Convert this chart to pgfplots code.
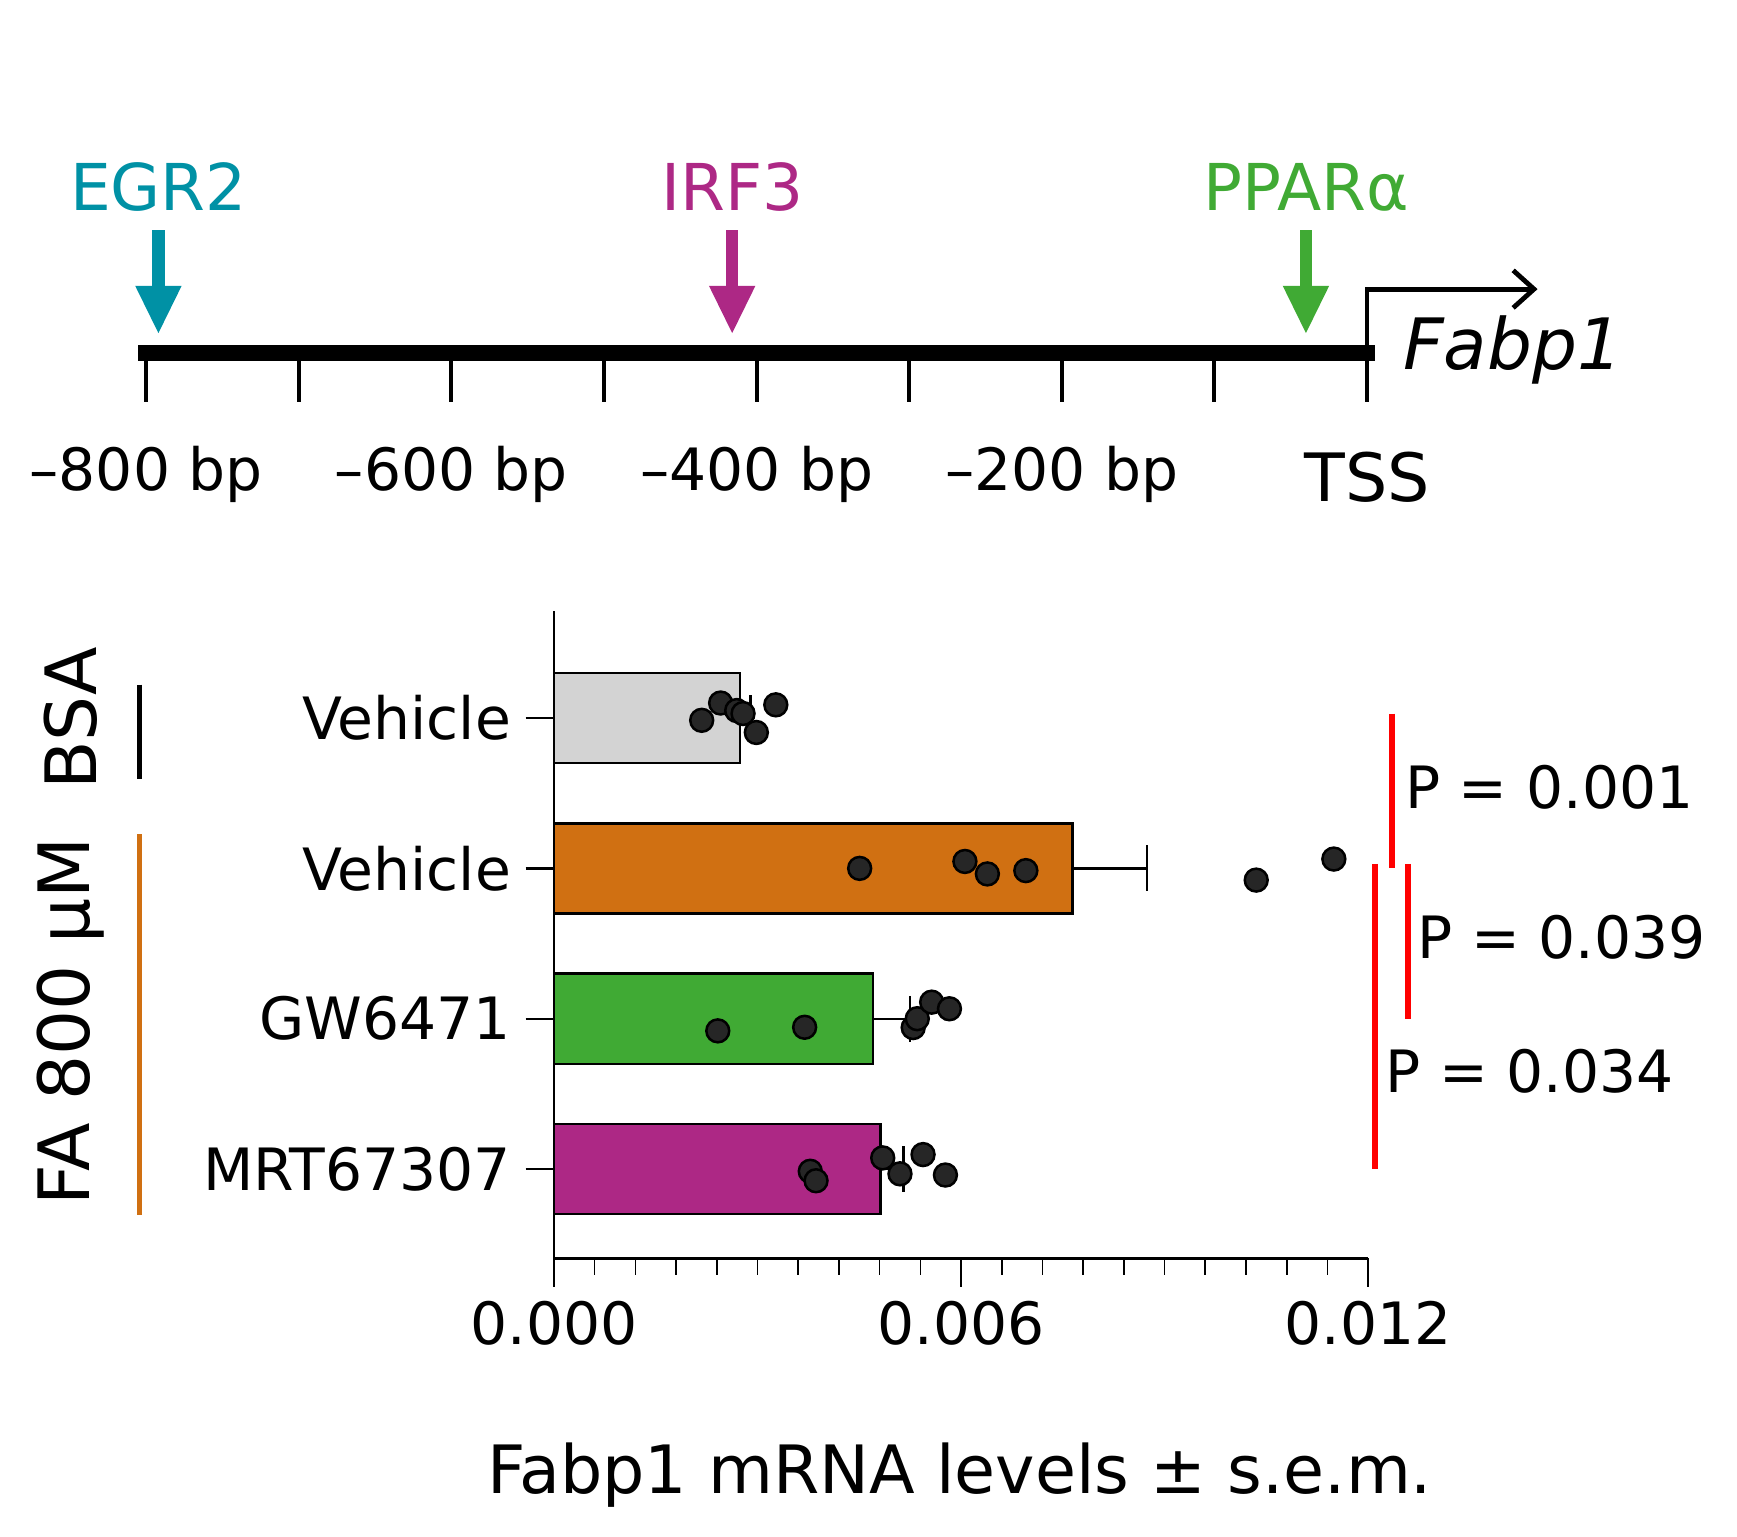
\documentclass[border=0pt]{standalone}
\usepackage{fontspec}
\setmainfont{DejaVu Sans}
\usepackage{pgfplots}
\pgfplotsset{compat=1.18}
\usetikzlibrary{arrows.meta}
\definecolor{cteal}{RGB}{0,145,165}
\definecolor{cmag}{RGB}{173,40,133}
\definecolor{cgreen}{RGB}{64,170,52}
\definecolor{corange}{RGB}{208,112,18}
\definecolor{cgray}{RGB}{211,211,211}
\newcommand{\fs}[1]{\fontsize{#1}{#1}\selectfont}

\begin{document}
\begin{tikzpicture}
\useasboundingbox (0,0) rectangle (416.88pt,368.76pt);

% ---------------- promoter diagram ----------------
\begin{axis}[
  hide axis, scale only axis, width=292.99pt, height=98.37pt,
  at={(35.09pt,243.80pt)}, anchor=south west,
  xmin=-800, xmax=0, ymin=-470, ymax=-100, clip=false]
  \draw[line width=3.75pt, line cap=rect] (axis cs:-800,-318.5) -- (axis cs:0,-318.5);
  \draw[line width=1pt] (axis cs:-800,-318.5) -- (axis cs:-800,-363);
  \draw[line width=1pt] (axis cs:-700,-318.5) -- (axis cs:-700,-363);
  \draw[line width=1pt] (axis cs:-600,-318.5) -- (axis cs:-600,-363);
  \draw[line width=1pt] (axis cs:-500,-318.5) -- (axis cs:-500,-363);
  \draw[line width=1pt] (axis cs:-400,-318.5) -- (axis cs:-400,-363);
  \draw[line width=1pt] (axis cs:-300,-318.5) -- (axis cs:-300,-363);
  \draw[line width=1pt] (axis cs:-200,-318.5) -- (axis cs:-200,-363);
  \draw[line width=1pt] (axis cs:-100,-318.5) -- (axis cs:-100,-363);
  \draw[line width=1pt] (axis cs:0,-318.5) -- (axis cs:0,-363);
  % TSS bent arrow
  \draw[line width=1.15pt, -{Straight Barb[length=5pt,width=9pt]}]
     (axis cs:0,-318.5) -- (axis cs:0,-261) -- (axis cs:111.8,-261);
  % TF arrows
  \draw[cteal, line width=2.95pt, -{Triangle[width=10.2pt,length=11.7pt]}] (axis cs:-792,-208) -- (axis cs:-792,-302);
  \draw[cmag, line width=2.95pt, -{Triangle[width=10.2pt,length=11.7pt]}] (axis cs:-416,-208) -- (axis cs:-416,-302);
  \draw[cgreen, line width=2.95pt, -{Triangle[width=10.2pt,length=11.7pt]}] (axis cs:-40,-208) -- (axis cs:-40,-302);
  \node[cteal, anchor=base, font=\fs{15.5}] at (axis cs:-792,-190) {EGR2};
  \node[cmag, anchor=base, font=\fs{15.5}] at (axis cs:-416,-190) {IRF3};
  \node[cgreen, anchor=base, font=\fs{15.5}] at (axis cs:-40,-190) {PPARα};
  % position labels
  \node[anchor=base, font=\fs{14}] at (axis cs:-800,-443) {–800 bp};
  \node[anchor=base, font=\fs{14}] at (axis cs:-600,-443) {–600 bp};
  \node[anchor=base, font=\fs{14}] at (axis cs:-400,-443) {–400 bp};
  \node[anchor=base, font=\fs{14}] at (axis cs:-200,-443) {–200 bp};
  \node[anchor=base, font=\fs{16}] at (axis cs:0,-453) {TSS};
  \node[anchor=base west, inner sep=0pt, font=\fs{17}\itshape] at (axis cs:23.2,-334) {Fabp1};
\end{axis}

% ---------------- bar chart ----------------
\begin{axis}[
  scale only axis, width=195.42pt, height=155.27pt,
  at={(132.94pt,66.73pt)}, anchor=south west,
  xmin=0, xmax=0.012, ymin=-3.595, ymax=0.709,
  axis x line*=bottom, axis y line*=left,
  axis line style={line width=0.65pt, -},
  tick align=outside,
  xtick={0,0.006,0.012}, xticklabels={0.000,0.006,0.012},
  minor x tick num=9,
  ytick={-3,-2,-1,0}, yticklabels={MRT67307,GW6471,Vehicle,Vehicle},
  major tick length=6.8pt, minor tick length=3.9pt,
  every tick/.style={black, line width=0.55pt},
  every minor tick/.append style={line width=0.4pt},
  tick label style={font=\fs{14}},
  scaled x ticks=false,
  clip=false,
  error bars/error mark=|,
]
  \addplot[xbar, bar width=0.6, bar shift=0pt, fill=cgray, draw=black, line width=0.6pt,
    error bars/.cd, x dir=plus, x explicit,
    error bar style={line width=0.55pt, black},
    error mark options={black, mark size=5.5pt, line width=0.55pt}]
    coordinates {(0.002743,0) +- (0.000155,0)};
  \addplot[xbar, bar width=0.6, bar shift=0pt, fill=corange, draw=black, line width=0.6pt,
    error bars/.cd, x dir=plus, x explicit,
    error bar style={line width=0.55pt, black},
    error mark options={black, mark size=5.5pt, line width=0.55pt}]
    coordinates {(0.00764,-1) +- (0.0011,0)};
  \addplot[xbar, bar width=0.6, bar shift=0pt, fill=cgreen, draw=black, line width=0.6pt,
    error bars/.cd, x dir=plus, x explicit,
    error bar style={line width=0.55pt, black},
    error mark options={black, mark size=5.5pt, line width=0.55pt}]
    coordinates {(0.004702,-2) +- (0.00055,0)};
  \addplot[xbar, bar width=0.6, bar shift=0pt, fill=cmag, draw=black, line width=0.6pt,
    error bars/.cd, x dir=plus, x explicit,
    error bar style={line width=0.55pt, black},
    error mark options={black, mark size=5.5pt, line width=0.55pt}]
    coordinates {(0.004816,-3) +- (0.000335,0)};

  \addplot[only marks, mark=*, mark size=2.75pt,
    mark options={fill=black!85, draw=black, line width=0.6pt}]
    coordinates {
    (0.002178,-0.015) (0.002457,0.10) (0.002694,0.05) (0.002787,0.03) (0.002983,-0.096) (0.00327,0.088)
    (0.004506,-1.0) (0.006057,-0.954) (0.006388,-1.037) (0.006955,-1.015) (0.01035,-1.078) (0.011494,-0.938)
    (0.002415,-2.081) (0.003695,-2.057) (0.005295,-2.059) (0.005355,-2.0) (0.005567,-1.89) (0.005829,-1.934)
    (0.003778,-3.015) (0.003863,-3.078) (0.004846,-2.926) (0.0051,-3.032) (0.00544,-2.904) (0.00577,-3.04)
    };

  % significance
  \draw[red, line width=1.4pt] (axis cs:0.012353,0.03) -- (axis cs:0.012353,-1.0);
  \draw[red, line width=1.4pt] (axis cs:0.012583,-0.97) -- (axis cs:0.012583,-2.0);
  \draw[red, line width=1.4pt] (axis cs:0.012098,-0.97) -- (axis cs:0.012098,-3.0);
  \node[anchor=base west, inner sep=0pt, font=\fs{14}] at (axis cs:0.012535,-0.605) {P = 0.001};
  \node[anchor=base west, inner sep=0pt, font=\fs{14}] at (axis cs:0.012715,-1.598) {P = 0.039};
  \node[anchor=base west, inner sep=0pt, font=\fs{14}] at (axis cs:0.012242,-2.49) {P = 0.034};

  % groups
  \node[rotate=90, anchor=base, inner sep=0pt, font=\fs{17}] at (axis cs:-0.006743,0) {BSA};
  \node[rotate=90, anchor=base, inner sep=0pt, font=\fs{17}] at (axis cs:-0.006841,-2.018) {FA 800 µM};
  \draw[black, line width=1.1pt] (axis cs:-0.006106,0.2225) -- (axis cs:-0.006106,-0.404);
  \draw[corange, line width=1.3pt] (axis cs:-0.006106,-0.772) -- (axis cs:-0.006106,-3.308);

  \node[anchor=base, font=\fs{16}] at (axis cs:0.00598,-5.158) {Fabp1 mRNA levels ± s.e.m.};
\end{axis}
\end{tikzpicture}
\end{document}
